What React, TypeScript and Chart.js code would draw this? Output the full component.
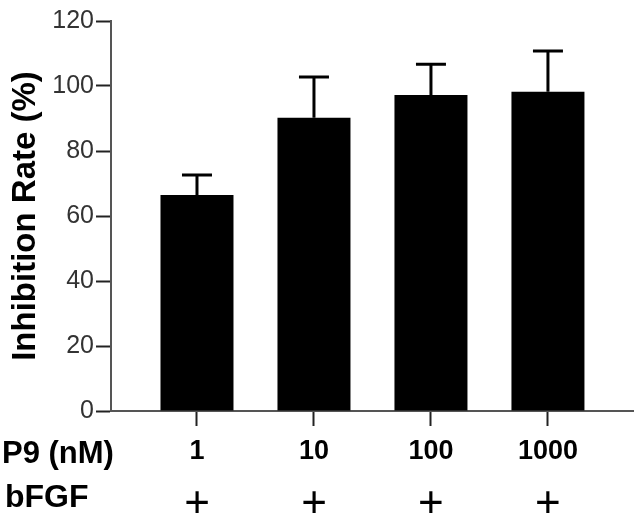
import React, { useEffect, useRef } from "react";
import { Chart, registerables } from "chart.js";

Chart.register(...registerables);

// ---- data ----
const doseLabels = ["1", "10", "100", "1000"];
const bfgfLabels = ["+", "+", "+", "+"];
const inhibitionMean = [66.5, 90.2, 97.2, 98.2];
const inhibitionErr = [6.1, 12.6, 9.5, 12.6];
const yTicks = [0, 20, 40, 60, 80, 100, 120];
const yTitle = "Inhibition Rate (%)";
const rowLabel1 = "P9 (nM)";
const rowLabel2 = "bFGF";

const FONT = "'Liberation Sans', Arial, Helvetica, sans-serif";

const errorBarPlugin = {
  id: "errorBars",
  afterDatasetsDraw(chart: any) {
    const { ctx } = chart;
    const meta = chart.getDatasetMeta(0);
    const ys = chart.scales.y;
    ctx.save();
    ctx.strokeStyle = "#000";
    ctx.lineWidth = 3;
    ctx.lineCap = "butt";
    meta.data.forEach((bar: any, i: number) => {
      const top = ys.getPixelForValue(inhibitionMean[i] + inhibitionErr[i]);
      const x = bar.x;
      ctx.beginPath();
      ctx.moveTo(x, bar.y);
      ctx.lineTo(x, top);
      ctx.moveTo(x - 15, top);
      ctx.lineTo(x + 15, top);
      ctx.stroke();
    });
    ctx.restore();
  },
};

const bottomTextPlugin = {
  id: "bottomText",
  afterDraw(chart: any) {
    const { ctx } = chart;
    const meta = chart.getDatasetMeta(0);
    ctx.save();
    ctx.fillStyle = "#000";
    ctx.textAlign = "left";
    ctx.textBaseline = "alphabetic";
    ctx.font = `bold 31px ${FONT}`;
    ctx.fillText(rowLabel1, 2, 463);
    ctx.font = `bold 32px ${FONT}`;
    ctx.fillText(rowLabel2, 5, 507);
    ctx.textAlign = "center";
    ctx.font = `44px ${FONT}`;
    meta.data.forEach((bar: any, i: number) => {
      ctx.fillText(bfgfLabels[i], bar.x, 517);
    });
    ctx.restore();
  },
};

export default function App() {
  const ref = useRef<HTMLCanvasElement | null>(null);

  useEffect(() => {
    if (!ref.current) return;
    const chart = new Chart(ref.current, {
      type: "bar",
      data: {
        datasets: [
          {
            data: inhibitionMean.map((v, i) => ({ x: i + 1, y: v })),
            backgroundColor: "#000",
            borderColor: "#000",
            borderWidth: 0,
            barPercentage: 0.624,
            categoryPercentage: 1,
          },
        ],
      },
      options: {
        responsive: false,
        animation: false,
        devicePixelRatio: 1,
        layout: { padding: { top: 21, right: 2, left: 0, bottom: 0 } },
        plugins: {
          legend: { display: false },
          tooltip: { enabled: false },
        },
        scales: {
          x: {
            type: "linear",
            offset: false,
            min: 0.265,
            max: 4.727,
            afterFit: (s: any) => {
              s.height = 102;
            },
            afterBuildTicks: (s: any) => {
              s.ticks = doseLabels.map((_, i) => ({ value: i + 1 }));
            },
            grid: {
              offset: false,
              drawOnChartArea: false,
              drawTicks: true,
              tickLength: 15,
              tickWidth: 2,
              tickColor: "#222",
            },
            border: { display: true, color: "#555", width: 2 },
            ticks: {
              autoSkip: false,
              maxRotation: 0,
              padding: 9,
              color: "#000",
              font: { family: FONT, size: 27, weight: "bold" },
              callback: (v: any) => {
                const idx = Math.round(Number(v)) - 1;
                return doseLabels[idx] ?? "";
              },
            },
          },
          y: {
            min: 0,
            max: 120,
            afterFit: (s: any) => {
              s.width = 111;
            },
            afterBuildTicks: (s: any) => {
              s.ticks = yTicks.map((v) => ({ value: v }));
            },
            grid: {
              drawOnChartArea: false,
              drawTicks: true,
              tickLength: 15,
              tickWidth: 2,
              tickColor: "#222",
            },
            border: { display: true, color: "#555", width: 2 },
            ticks: {
              padding: 2,
              color: "#333",
              font: { family: FONT, size: 25 },
            },
            title: {
              display: true,
              text: yTitle,
              color: "#000",
              font: { family: FONT, size: 33, weight: "bold" },
              padding: { top: 6, bottom: 0 },
            },
          },
        },
      },
      plugins: [errorBarPlugin, bottomTextPlugin],
    });
    return () => chart.destroy();
  }, []);

  return (
    <div style={{ position: "absolute", left: 0, top: 0, width: 635, height: 513 }}>
      <canvas ref={ref} width={635} height={513} />
    </div>
  );
}
